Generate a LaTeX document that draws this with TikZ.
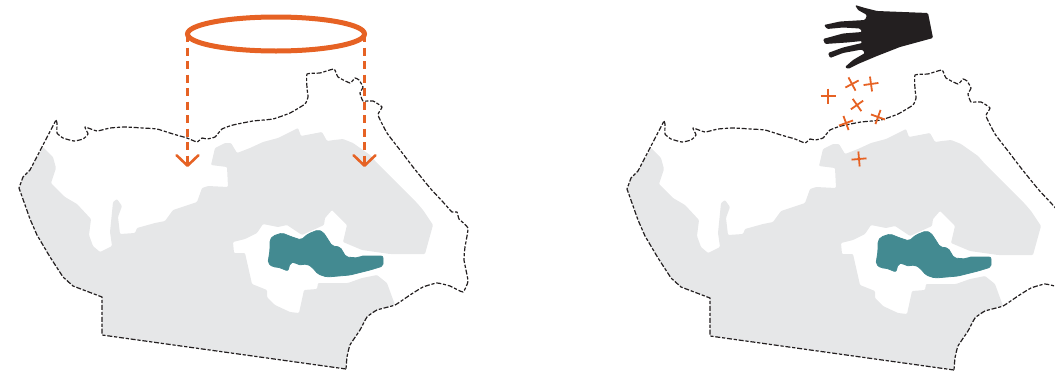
\documentclass[tikz,border=0pt]{standalone}
\usetikzlibrary{arrows.meta,shapes.geometric}
\definecolor{landgrey}{HTML}{E6E7E8}
\definecolor{lake}{HTML}{438A91}
\definecolor{accent}{HTML}{E66224}
\definecolor{handblack}{HTML}{231F20}
\tikzset{
  x=1pt,y=-1pt,
  land/.style={fill=landgrey,draw=none,rounded corners=1pt},
  water/.style={fill=lake,draw=lake,line width=.8pt,line join=round,rounded corners=2pt},
  border/.style={draw=handblack,line width=1.2pt,dash pattern=on 5pt off 1.8pt on 3.2pt off 1.8pt,line join=round},
  ringstyle/.style={draw=accent,ellipse,line width=5pt,minimum width=177pt,minimum height=34pt,inner sep=0pt,outer sep=0pt},
  droparrow/.style={draw=accent,line width=2.6pt,dash pattern=on 8pt off 5.5pt,-{Straight Barb[length=10.5pt,width=22pt,line width=2.6pt,round=false]}},
  crossmark/.style={draw=accent,line width=1.8pt},
}
\newcommand{\mapdrawing}{%
  \fill[land] (43,147) -- (53,157) -- (56,168) -- (51,183) -- (65,197) -- (77,204) -- (91,219) -- (89,235) -- (93,246) -- (100,252) -- (112,246) -- (110,232) -- (113,202) -- (117,199) -- (122,206) -- (118,217) -- (120,234) -- (135,233) -- (137,228) -- (155,223) -- (165,221) -- (173,210) -- (197,202) -- (202,188) -- (208,186) -- (228,187) -- (227,167) -- (211,165) -- (215,148) -- (225,143) -- (231,143) -- (237,153) -- (250,148) -- (263,142) -- (278,138) -- (298,128) -- (301,136) -- (322,132) -- (327,141) -- (334,140) -- (343,139) -- (353,143) -- (370,155) -- (377,163) -- (397,183) -- (417,203) -- (423,210) -- (433,225) -- (425,254) -- (390,254) -- (362,250) -- (343,242) -- (347,225) -- (332,210) -- (325,218) -- (324,225) -- (302,235) -- (287,225) -- (278,227) -- (263,224) -- (257,233) -- (245,239) -- (233,242) -- (234,253) -- (245,253) -- (252,284) -- (267,290) -- (267,297) -- (275,305) -- (290,312) -- (299,313) -- (304,290) -- (317,289) -- (318,283) -- (348,283) -- (362,278) -- (377,275) -- (387,283) -- (395,305) -- (377,310) -- (367,317) -- (360,330) -- (350,345) -- (347,357) -- (346,369) -- (102,335) -- (102,297) -- (73,286) -- (63,277) -- (50,257) -- (37,235) -- (30,219) -- (19,188) -- (23,177) -- (30,170) -- cycle;
  \path[water] (270,240) -- (273,236) -- (282,233) -- (292,237) -- (301,240) -- (308,234) -- (318,230) -- (323,232) -- (327,238) -- (332,246) -- (340,247) -- (343,252) -- (346,257) -- (358,258) -- (361,256) -- (383,256) -- (383,266) -- (370,270) -- (350,275) -- (327,277) -- (318,274) -- (312,267) -- (307,264) -- (298,265) -- (295,262) -- (290,263) -- (288,271) -- (283,269) -- (278,267) -- (273,267) -- (268,263) -- (270,250) -- cycle;
  \draw[border] plot[smooth,tension=.25] coordinates {(56,120) (57,123) (57,133) (63,138) (74,141) (83,139) (88,134) (85,127) (97,131) (110,128) (125,127) (143,128) (157,129) (173,134) (187,138) (197,142) (202,138) (207,139) (215,137) (222,129) (233,125) (253,121) (273,119) (290,113) (305,104) (308,97) (307,88) (307,74) (320,73) (334,69) (338,77) (350,83) (355,78) (359,80) (363,87) (360,93) (363,101) (373,101) (382,107) (378,115) (387,133) (400,150) (413,167) (430,188) (443,202) (452,212) (457,212) (459,219) (468,228) (465,247) (464,260) (468,281) (463,292) (450,286) (437,283) (423,287) (410,295) (395,305) (377,310) (367,317) (360,330) (350,345) (347,357) (346,369)};
  \draw[border] (346,369) -- (102,335) -- (102,297) -- (73,286) -- (63,277) -- (50,257) -- (37,235) -- (30,219) -- (19,188) -- (23,177) -- (30,170) -- (56,120);
}
\begin{document}
\begin{tikzpicture}
  \useasboundingbox (0,0) rectangle (1055,370);
  \mapdrawing
  \begin{scope}[shift={(608,1)}]
    \mapdrawing
  \end{scope}
  \node[ringstyle] (ring) at (276,34) {};
  \coordinate (tipL) at (ring.west |- 0,167);
  \coordinate (tipR) at (ring.east |- 0,167);
  \draw[droparrow] (ring.west) -- (tipL);
  \draw[droparrow] (ring.east) -- (tipR);
  \fill[handblack,rounded corners=1.2pt] (855,5) -- (865,8) -- (877,11) -- (928,13) -- (933,38) -- (900,47) -- (877,56) -- (858,64) -- (848,69) -- (845,67) -- (853,60) -- (865,53) -- (862,49.5) -- (843,53) -- (830,58) -- (828,53) -- (843,47.5) -- (862,43) -- (862,41) -- (847,42.5) -- (825,44) -- (823,39) -- (843,33.5) -- (862,32) -- (860,28.5) -- (843,27.5) -- (827,29) -- (824,25) -- (840,21.5) -- (865,20) -- (867,15) -- (858,10) -- cycle;
  \foreach \cx/\cy/\ang in {828/96/0, 852/84/28, 871/84/8, 857/105/35, 878/117/-20, 846/123/20, 859/159/5} {
    \draw[crossmark,rotate around={\ang:(\cx,\cy)}] (\cx-7.5,\cy) -- (\cx+7.5,\cy) (\cx,\cy-7.5) -- (\cx,\cy+7.5);
  }
\end{tikzpicture}
\end{document}
